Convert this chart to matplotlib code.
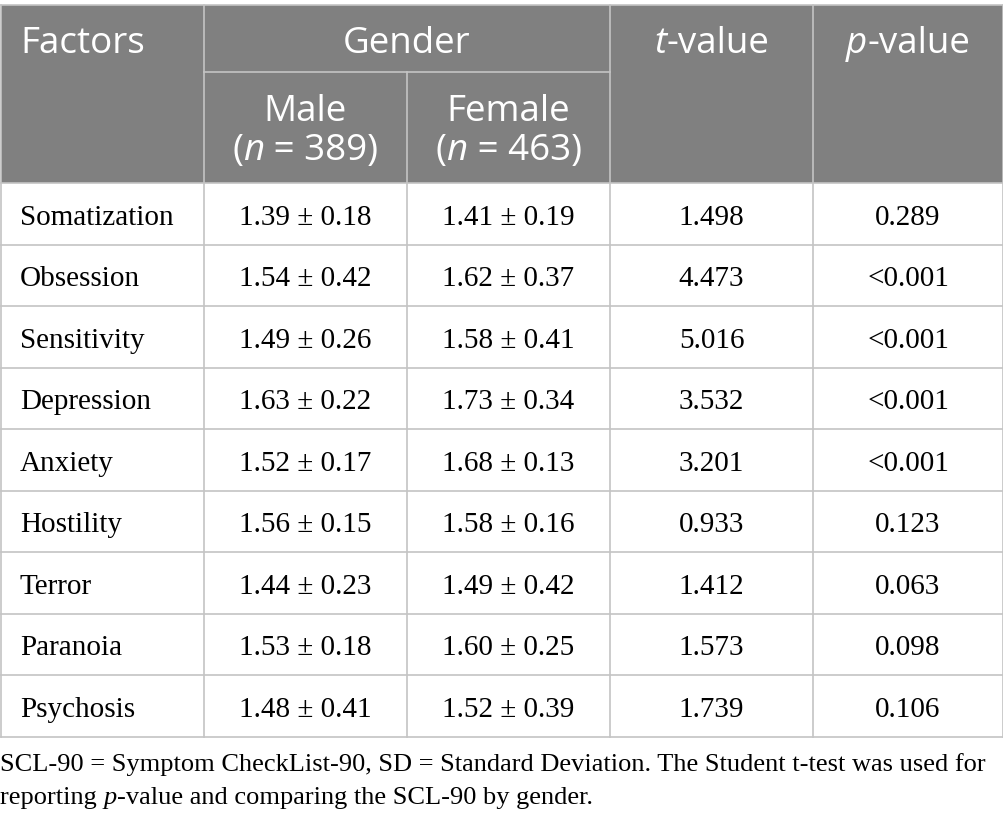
import matplotlib

matplotlib.use("Agg")
import matplotlib.pyplot as plt
from matplotlib.patches import Rectangle

factors = ["Somatization", "Obsession", "Sensitivity", "Depression", "Anxiety",
           "Hostility", "Terror", "Paranoia", "Psychosis"]
male = ["1.39 ± 0.18", "1.54 ± 0.42", "1.49 ± 0.26", "1.63 ± 0.22", "1.52 ± 0.17",
        "1.56 ± 0.15", "1.44 ± 0.23", "1.53 ± 0.18", "1.48 ± 0.41"]
female = ["1.41 ± 0.19", "1.62 ± 0.37", "1.58 ± 0.41", "1.73 ± 0.34", "1.68 ± 0.13",
          "1.58 ± 0.16", "1.49 ± 0.42", "1.60 ± 0.25", "1.52 ± 0.39"]
t_values = ["1.498", "4.473", "5.016", "3.532", "3.201", "0.933", "1.412", "1.573", "1.739"]
p_values = ["0.289", "<0.001", "<0.001", "<0.001", "<0.001", "0.123", "0.063", "0.098", "0.106"]
n_male = 389
n_female = 463

HEAD_FONT = "Open Sans"
BODY_FONT = "Liberation Serif"
HEAD_BG = "#808080"
GRID = "#c4c4c4"

col_x = [1, 204, 407, 610, 813, 1003]
top, sub_line, head_bot = 5, 72, 183
row_h = 61.5

fig = plt.figure(figsize=(10.04, 8.25), dpi=100)
ax = fig.add_axes([0, 0, 1, 1])
ax.set_xlim(0, 1004)
ax.set_ylim(825, 0)
ax.axis("off")
renderer = fig.canvas.get_renderer()


def pieces(x, y, parts, family, size, color, align="center"):
    # draw text made of (string, italic) parts, side by side on one baseline
    inv = ax.transData.inverted()
    widths = []
    for s, it in parts:
        t = ax.text(0, 0, s, fontsize=size, family=family,
                    style="italic" if it else "normal")
        widths.append(t.get_window_extent(renderer).width)
        t.remove()
    total = sum(widths)
    x0_px = ax.transData.transform((x, y))[0]
    if align == "center":
        x0_px -= total / 2
    for (s, it), w in zip(parts, widths):
        xd = inv.transform((x0_px, 0))[0]
        ax.text(xd, y, s, fontsize=size, family=family, color=color,
                style="italic" if it else "normal", ha="left", va="baseline")
        x0_px += w


# header background
ax.add_patch(Rectangle((col_x[0], top), col_x[-1] - col_x[0], head_bot - top,
                       facecolor=HEAD_BG, edgecolor="none"))

# grid lines
n_rows = len(factors)
bottom = head_bot + row_h * n_rows
ax.plot([col_x[0], col_x[-1]], [top, top], color=GRID, lw=1.2)
ax.plot([col_x[1], col_x[3]], [sub_line, sub_line], color=GRID, lw=1.2)
for i in range(n_rows + 1):
    y = head_bot + row_h * i
    ax.plot([col_x[0], col_x[-1]], [y, y], color=GRID, lw=1.2)
for i, x in enumerate(col_x):
    y0 = sub_line if i == 2 else top
    ax.plot([x, x], [y0, bottom], color=GRID, lw=1.2)

# header text
hs = 26.5
hy = 53
ax.text(20, hy, "Factors", fontsize=hs, family=HEAD_FONT, color="white",
        ha="left", va="baseline")
ax.text((col_x[1] + col_x[3]) / 2, hy, "Gender", fontsize=hs, family=HEAD_FONT,
        color="white", ha="center", va="baseline")
pieces((col_x[3] + col_x[4]) / 2, hy, [("t", True), ("-value", False)],
       HEAD_FONT, hs, "white")
pieces((col_x[4] + col_x[5]) / 2, hy, [("p", True), ("-value", False)],
       HEAD_FONT, hs, "white")
for ci, (lab, n) in enumerate([("Male", n_male), ("Female", n_female)]):
    cx = (col_x[ci + 1] + col_x[ci + 2]) / 2
    ax.text(cx, 121, lab, fontsize=hs, family=HEAD_FONT, color="white",
            ha="center", va="baseline")
    pieces(cx, 160, [("(", False), ("n", True), (f" = {n})", False)],
           HEAD_FONT, hs, "white")

# body
bs = 21
for i in range(n_rows):
    y = head_bot + row_h * (i + 0.5) + 11
    ax.text(20, y, factors[i], fontsize=bs, family=BODY_FONT, ha="left", va="baseline")
    vals = [male[i], female[i], t_values[i], p_values[i]]
    for j, v in enumerate(vals):
        ax.text((col_x[j + 1] + col_x[j + 2]) / 2, y, v, fontsize=bs,
                family=BODY_FONT, ha="center", va="baseline")

# footnote
fs = 19
ax.text(0, 771, "SCL-90 = Symptom CheckList-90, SD = Standard Deviation. "
        "The Student t-test was used for", fontsize=fs, family=BODY_FONT,
        ha="left", va="baseline")
pieces(0, 804, [("reporting ", False), ("p", True),
                ("-value and comparing the SCL-90 by gender.", False)],
       BODY_FONT, fs, "black", align="left")

fig.savefig("out.png", dpi=100)
